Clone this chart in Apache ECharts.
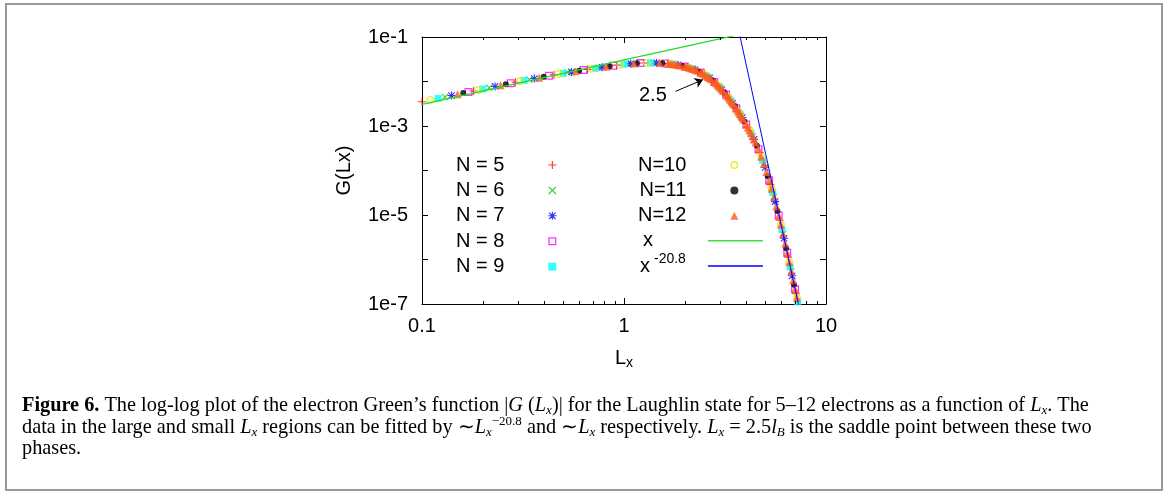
<!DOCTYPE html>
<html>
<head>
<meta charset="utf-8">
<title>Green's function, log-log</title>
<script src="https://cdn.jsdelivr.net/npm/echarts@6.0.0/dist/echarts.min.js"></script>
<style>
  html, body { margin: 0; padding: 0; background: #fff; }
  #main { width: 1168px; height: 493px; }
</style>
</head>
<body>
<div id="main"></div>
<script>
// |G(Lx)|, one list per electron number N
var n5  = [[0.10,3.51e-3],[0.18,6.12e-3],[0.29,9.64e-3],[0.45,0.01406],[0.66,0.01875],[0.92,0.02328],[1.25,0.02606],[1.65,0.02523],[2.05,0.02113],[2.45,0.01514],[2.85,0.00912],[3.25,0.00468],[3.65,0.00226],[4.10,9.3e-4],[4.70,2.5e-4],[5.30,4.8e-5],[5.90,7.6e-6],[6.50,1.12e-6],[7.10,1.7e-7]];
var n6  = [[0.13,4.49e-3],[0.215,7.25e-3],[0.34,0.0111],[0.525,0.0159],[0.75,0.0204],[1.04,0.0248],[1.40,0.0262],[1.80,0.024],[2.20,0.019],[2.60,0.0127],[3.00,0.0072],[3.40,0.00355],[3.80,0.0017],[4.33,5.9e-4],[4.93,1.4e-4],[5.53,2.55e-5],[6.13,3.75e-6],[6.73,5.4e-7]];
var n7  = [[0.14,4.83e-3],[0.23,7.74e-3],[0.36,0.01169],[0.55,0.01641],[0.78,0.0209],[1.08,0.0251],[1.45,0.02612],[1.85,0.02355],[2.25,0.01828],[2.65,0.01202],[3.05,0.00661],[3.45,0.00324],[3.85,0.00155],[4.40,5.0e-4],[5.00,1.17e-4],[5.60,2.0e-5],[6.20,3.0e-6],[6.80,4.3e-7]];
var n8  = [[0.17,5.8e-3],[0.275,9.15e-3],[0.425,0.0134],[0.63,0.0181],[0.885,0.0227],[1.205,0.0259],[1.60,0.0255],[2.00,0.0218],[2.40,0.0159],[2.80,0.0098],[3.20,0.0051],[3.60,0.0025],[4.03,0.00108],[4.63,3.0e-4],[5.23,6.0e-5],[5.83,9.7e-6],[6.43,1.42e-6],[7.03,2.15e-7]];
var n9  = [[0.12,4.17e-3],[0.20,6.78e-3],[0.32,0.01057],[0.50,0.01528],[0.72,0.01982],[1.00,0.02455],[1.35,0.02618],[1.75,0.02449],[2.15,0.01972],[2.55,0.01349],[2.95,0.00776],[3.35,0.00389],[3.75,0.00186],[4.25,6.9e-4],[4.85,1.7e-4],[5.45,3.2e-5],[6.05,4.7e-6],[6.65,6.8e-7],[7.25,1.12e-7]];
var n10 = [[0.11,3.83e-3],[0.19,6.45e-3],[0.305,0.0101],[0.475,0.0147],[0.69,0.0193],[0.96,0.0239],[1.30,0.0262],[1.70,0.0249],[2.10,0.0204],[2.50,0.0143],[2.90,0.0084],[3.30,0.0043],[3.70,0.00205],[4.18,8.0e-4],[4.78,2.05e-4],[5.38,3.9e-5],[5.98,6.0e-6],[6.58,8.7e-7],[7.18,1.38e-7]];
var n11 = [[0.16,5.48e-3],[0.26,8.69e-3],[0.40,0.01279],[0.60,0.0175],[0.85,0.02208],[1.16,0.02564],[1.55,0.02576],[1.95,0.02239],[2.35,0.0166],[2.75,0.01047],[3.15,0.00562],[3.55,0.00275],[3.95,0.00126],[4.55,3.6e-4],[5.15,7.4e-5],[5.75,1.23e-5],[6.35,1.8e-6],[6.95,2.7e-7]];
var n12 = [[0.15,5.15e-3],[0.245,8.2e-3],[0.38,0.0122],[0.575,0.017],[0.815,0.0215],[1.12,0.0254],[1.50,0.0259],
  [1.65,0.02523],[1.70,0.0249],[1.75,0.02449],[1.80,0.024],[1.85,0.02355],[1.90,0.023],[2.00,0.0218],[2.05,0.02113],
  [2.10,0.0204],[2.15,0.01972],[2.20,0.019],[2.25,0.01828],[2.30,0.0174],[2.40,0.0159],[2.45,0.01514],[2.50,0.0143],
  [2.55,0.01349],[2.60,0.0127],[2.65,0.01202],[2.70,0.0112],[2.80,0.0098],[2.85,0.00912],[2.90,0.0084],[2.95,0.00776],
  [3.00,0.0072],[3.05,0.00661],[3.10,0.0061],[3.20,0.0051],[3.25,0.00468],[3.30,0.0043],[3.35,0.00389],[3.40,0.00355],
  [3.45,0.00324],[3.50,0.003],[3.60,0.0025],[3.65,0.00226],[3.70,0.00205],[3.75,0.00186],[3.80,0.0017],[3.85,0.00155],
  [3.90,0.0014],[4.03,0.00108],[4.10,9.3e-4],[4.18,8.0e-4],[4.25,6.9e-4],[4.33,5.9e-4],[4.40,5.0e-4],[4.48,4.25e-4],
  [4.63,3.0e-4],[4.78,2.05e-4],[4.93,1.4e-4],[5.08,9.3e-5],[5.23,6.0e-5],[5.38,3.9e-5],[5.53,2.55e-5],[5.68,1.57e-5],
  [5.83,9.7e-6],[5.98,6.0e-6],[6.13,3.75e-6],[6.28,2.3e-6],[6.43,1.42e-6],[6.58,8.7e-7],[6.73,5.4e-7],[6.88,3.4e-7],
  [7.03,2.15e-7],[7.18,1.38e-7]];

// fits: ~Lx for small Lx, ~Lx^-20.8 for large Lx (end points)
var fitSmall = [[0.1, 3.05e-3], [10, 0.305]];
var fitLarge = [[3.0, 10.9], [8.0, 1.5e-8]];

// saddle point note
var saddleText = '2.5';
var saddleTextAt = [1.39, 4.8e-3];
var saddleArrow = [[1.80, 6.0e-3], [2.46, 0.011]];

// axes
var xRange = [0.1, 10];
var yRange = [1e-7, 1e-1];
var xMinorTicks = [0.2, 0.3, 0.4, 0.5, 0.6, 0.7, 0.8, 0.9, 2, 3, 4, 5, 6, 7, 8, 9];
var yTickLabels = ['1e-1', '1e-3', '1e-5', '1e-7'];

var SANS = 'Liberation Sans';
var SERIF = 'Liberation Serif';

// gnuplot-like point types
var SYM = {
  plus: 'path://M4.3,0H5.7V4.3H10V5.7H5.7V10H4.3V5.7H0V4.3H4.3Z',
  cross: 'path://M1,0L5,4L9,0L10,1L6,5L10,9L9,10L5,6L1,10L0,9L4,5L0,1Z',
  star: 'path://M4.3,0H5.7V4.3H10V5.7H5.7V10H4.3V5.7H0V4.3H4.3Z M1.5,0.5L5,4L8.5,0.5L9.5,1.5L6,5L9.5,8.5L8.5,9.5L5,6L1.5,9.5L0.5,8.5L4,5L0.5,1.5Z',
  box: 'path://M0,0H10V10H0Z M1.6,1.6V8.4H8.4V1.6Z',
  ring: 'path://M0,5A5,5,0,1,1,10,5A5,5,0,1,1,0,5Z M1.8,5A3.2,3.2,0,1,0,8.2,5A3.2,3.2,0,1,0,1.8,5Z'
};

function pts(name, data, symbol, size, color) {
  return {
    name: name, type: 'scatter', data: data, symbol: symbol, symbolSize: size,
    itemStyle: { color: color }, silent: true, z: 2
  };
}

var chart = echarts.init(document.getElementById('main'), null, { renderer: 'canvas' });

var legendText = { fontFamily: SANS, fontSize: 20, color: '#000', lineHeight: 20, padding: [0, 39, 0, 0] };

var CAP = 20.3;
function capToken(extra) {
  var t = { fontFamily: SERIF, fontSize: CAP, lineHeight: 22, fill: '#000' };
  for (var k in extra) t[k] = extra[k];
  return t;
}
var capRich = {
  b: capToken({ fontWeight: 'bold' }),
  i: capToken({ fontStyle: 'italic' }),
  s: { fontFamily: SERIF, fontSize: 13, fontStyle: 'italic', lineHeight: 13, padding: [10, 0, 0, 0], fill: '#000' },
  p: { fontFamily: SERIF, fontSize: 13, lineHeight: 13, padding: [0, 0, 12, 0], fill: '#000' }
};
var capLines = [
  '{b|Figure 6.} The log-log plot of the electron Green\u2019s function |{i|G} ({i|L}{s|x})| for the Laughlin state for 5\u201312 electrons as a function of {i|L}{s|x}. The',
  'data in the large and small {i|L}{s|x} regions can be fitted by \u223c{i|L}{s|x}{p|\u221220.8} and \u223c{i|L}{s|x} respectively. {i|L}{s|x} = 2.5{i|l}{s|B} is the saddle point between these two',
  'phases.'
];
var capY = [406, 428, 449];

chart.setOption({
  animation: false,
  backgroundColor: '#fff',
  textStyle: { fontFamily: SANS, color: '#000' },
  grid: { left: 422, top: 37, width: 404, height: 267, containLabel: false },
  xAxis: [{
    type: 'log', logBase: 10, min: xRange[0], max: xRange[1], position: 'bottom',
    axisLine: { show: true, lineStyle: { color: '#000', width: 1 } },
    axisTick: { show: true, inside: true, length: 6, lineStyle: { color: '#000', width: 1 } },
    minorTick: { show: false },
    splitLine: { show: false },
    axisLabel: { fontSize: 20, color: '#000', margin: 12, fontFamily: SANS },
    name: '{l|L}{s|x}', nameLocation: 'middle', nameGap: 42,
    nameTextStyle: {
      fontFamily: SANS, fontSize: 20, color: '#000',
      rich: { l: { fontSize: 20, lineHeight: 24 }, s: { fontSize: 14, lineHeight: 14, padding: [10, 0, 0, 0] } }
    }
  }, {
    type: 'log', logBase: 10, min: xRange[0], max: xRange[1], position: 'top',
    axisLine: { show: true, lineStyle: { color: '#000', width: 1 } },
    axisTick: { show: true, inside: true, length: 6, lineStyle: { color: '#000', width: 1 } },
    axisLabel: { show: false }, splitLine: { show: false }
  }],
  yAxis: [{
    type: 'log', logBase: 10, min: yRange[0], max: yRange[1], position: 'left',
    axisLine: { show: true, lineStyle: { color: '#000', width: 1 } },
    axisTick: { show: true, inside: true, length: 6, lineStyle: { color: '#000', width: 1 } },
    splitLine: { show: false },
    axisLabel: {
      fontSize: 20, color: '#000', margin: 14, fontFamily: SANS,
      formatter: function (v) {
        var s = '1e' + Math.round(Math.log10(v));
        return yTickLabels.indexOf(s) >= 0 ? s : '';
      }
    },
    name: 'G(Lx)', nameLocation: 'middle', nameGap: 68, nameRotate: 90,
    nameTextStyle: { fontFamily: SANS, fontSize: 20, color: '#000' }
  }, {
    type: 'log', logBase: 10, min: yRange[0], max: yRange[1], position: 'right',
    axisLine: { show: true, lineStyle: { color: '#000', width: 1 } },
    axisTick: { show: true, inside: true, length: 6, lineStyle: { color: '#000', width: 1 } },
    axisLabel: { show: false }, splitLine: { show: false }
  }],
  legend: [{
    orient: 'vertical', left: 456, top: 155, padding: 0, align: 'right',
    itemWidth: 8, itemHeight: 8, itemGap: 5.4, selectedMode: false,
    textStyle: legendText,
    data: ['N = 5', 'N = 6', 'N = 7', 'N = 8', 'N = 9']
  }, {
    orient: 'vertical', left: 638, top: 155, padding: 0, align: 'right',
    itemWidth: 8, itemHeight: 8, itemGap: 5.4, selectedMode: false,
    textStyle: legendText,
    data: ['N=10', 'N=11', 'N=12']
  }, {
    orient: 'vertical', left: 640, top: 230.7, padding: 0, align: 'right',
    itemWidth: 55, itemHeight: 1.5, itemGap: 1.3, selectedMode: false,
    formatter: function (name) {
      return name === 'x^-20.8' ? '{b|x}{p|-20.8}' : name;
    },
    textStyle: {
      fontFamily: SANS, fontSize: 20, color: '#000', lineHeight: 20,
      rich: {
        b: { fontSize: 20, lineHeight: 20 },
        p: { fontSize: 14, lineHeight: 14, padding: [0, 0, 14, 4] }
      }
    },
    data: [
      { name: 'x', icon: 'rect', itemStyle: { color: '#44dd44', borderWidth: 0 }, textStyle: { padding: [0, 50, 0, 0] } },
      { name: 'x^-20.8', icon: 'rect', itemStyle: { color: '#0000ff', borderWidth: 0 }, textStyle: { padding: [0, 17, 0, 0] } }
    ]
  }],
  graphic: [{
    type: 'rect', silent: true,
    shape: { x: 6, y: 4, width: 1156, height: 486 },
    style: { fill: 'none', stroke: '#999', lineWidth: 2 }
  }].concat(capLines.map(function (line, i) {
    return {
      type: 'text', silent: true, x: 22, y: capY[i],
      style: {
        text: line, rich: capRich, fill: '#000',
        fontFamily: SERIF, fontSize: CAP, lineHeight: 22, verticalAlign: 'middle'
      }
    };
  })),
  series: [
    pts('N = 5', n5, SYM.plus, 8, '#ff0000'),
    pts('N = 6', n6, SYM.cross, 7, '#00c000'),
    pts('N = 7', n7, SYM.star, 8, '#0000ff'),
    pts('N = 8', n8, SYM.box, 8, '#ff00ff'),
    pts('N = 9', n9, 'rect', 7, '#00ffff'),
    pts('N=10', n10, SYM.ring, 8, '#e8e800'),
    pts('N=11', n11, 'circle', 6, '#000000'),
    pts('N=12', n12, 'triangle', 8, '#ff5a1e'),
    {
      name: 'x', type: 'line', data: fitSmall, symbol: 'none', silent: true, z: 3,
      color: '#22dd22', lineStyle: { color: '#22dd22', width: 1.3 }
    },
    {
      name: 'x^-20.8', type: 'line', data: fitLarge, symbol: 'none', silent: true, z: 3,
      color: '#0000ff', lineStyle: { color: '#0000ff', width: 1 }
    },
    {
      name: 'saddle', type: 'scatter', data: [], silent: true, z: 4,
      markLine: {
        silent: true, animation: false,
        symbol: ['none', 'arrow'], symbolSize: 8,
        label: { show: false },
        lineStyle: { color: '#000', width: 1, type: 'solid' },
        data: [[{ coord: saddleArrow[0] }, { coord: saddleArrow[1] }]]
      },
      markPoint: {
        silent: true, animation: false,
        symbol: 'rect', symbolSize: 1, itemStyle: { color: 'rgba(0,0,0,0)' },
        label: { show: true, position: 'inside', formatter: saddleText, fontSize: 20, color: '#000', fontFamily: SANS },
        data: [{ coord: saddleTextAt }]
      }
    },
    {
      // minor ticks of the log x axis, bottom and top
      type: 'custom', silent: true, z: 5, clip: false,
      data: xMinorTicks.map(function (v) { return [v, yRange[0]]; }),
      renderItem: function (params, api) {
        var b = api.coord([api.value(0), yRange[0]]);
        var t = api.coord([api.value(0), yRange[1]]);
        var x = Math.round(b[0]) + 0.5;
        return {
          type: 'group',
          children: [
            { type: 'line', shape: { x1: x, y1: b[1], x2: x, y2: b[1] - 3 }, style: { stroke: '#000', lineWidth: 1 } },
            { type: 'line', shape: { x1: x, y1: t[1], x2: x, y2: t[1] + 3 }, style: { stroke: '#000', lineWidth: 1 } }
          ]
        };
      }
    }
  ]
});
</script>
</body>
</html>
